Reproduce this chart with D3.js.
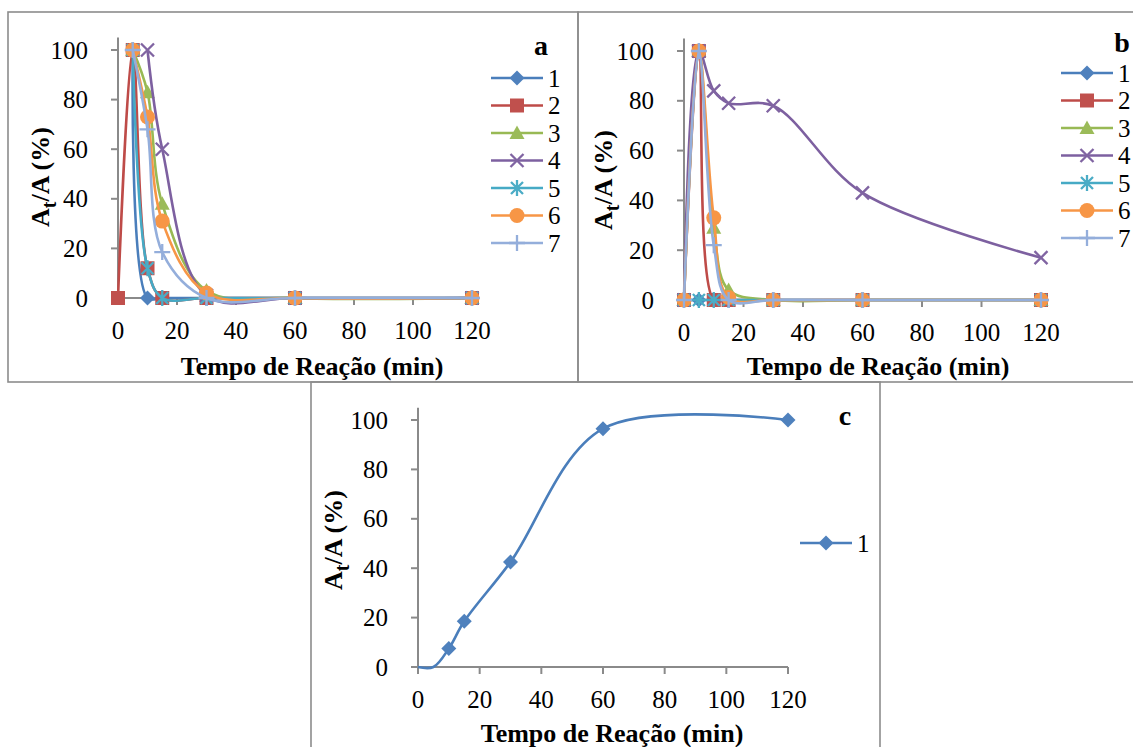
<!DOCTYPE html>
<html><head><meta charset="utf-8">
<script src="https://cdn.jsdelivr.net/npm/d3@7"></script>
<style>body{margin:0;background:#fff}svg{display:block}</style>
</head><body>
<svg id="chart" width="1133" height="747"></svg>
<script>
// Sampling times (min) and axis ticks
const times = [0, 5, 10, 15, 30, 60, 120];
const xTicks = [0, 20, 40, 60, 80, 100, 120];
const yTicks = [0, 20, 40, 60, 80, 100];
const seriesNames = ["1", "2", "3", "4", "5", "6", "7"];

// Panel a: A_t/A (%) per series (null = not measured)
const a1 = [null, 100, 0, 0, 0, 0, 0];
const a2 = [0, 100, 12, 0, 0, 0, 0];
const a3 = [null, 100, 83, 38, 3, 0, 0];
const a4 = [null, null, 100, 60, 1, 0, 0];
const a5 = [null, 100, 12, 0, 0, 0, 0];
const a6 = [null, 100, 73, 31, 2, 0, 0];
const a7 = [null, 100, 68, 18.5, 0, 0, 0];

// Panel b
const b1 = [0, 0, 0, 0, 0, 0, 0];
const b2 = [0, 100, 0, 0, 0, 0, 0];
const b3 = [0, 100, 29, 4, 0, 0, 0];
const b4 = [0, 100, 84, 79, 78, 43, 17];
const b5 = [0, 0, 0, 0, 0, 0, 0];
const b6 = [0, 100, 33, 1, 0, 0, 0];
const b7 = [0, 100, 22, 0, 0, 0, 0];

// Panel c (markers only on measured, non-baseline points)
const c1 = [0, 0, 7.5, 18.5, 42.5, 96.5, 100];
const c1Marked = [false, false, true, true, true, true, true];

// Series styling
const lineColors = ["#4A7EBB", "#BE4B48", "#98B954", "#7D60A0", "#46AAC5", "#F79646", "#94AEDB"];
const markerColors = ["#4F81BD", "#C0504D", "#9BBB59", "#8064A2", "#4BACC6", "#F79646", "#94AEDB"];
const markerShapes = ["diamond", "square", "triangle", "x", "star", "circle", "plus"];

const svg = d3.select("#chart");
const SERIF = "Liberation Serif, Times New Roman, serif";
const AXIS = "#8A8A8A";

// Panel frames
const frames = [
  {x: 8, y: 12, w: 570, h: 370},
  {x: 578, y: 12, w: 570, h: 370},
  {x: 311, y: 382, w: 569, h: 380}
];
frames.forEach(f => svg.append("rect").attr("x", f.x).attr("y", f.y).attr("width", f.w).attr("height", f.h)
  .attr("fill", "none").attr("stroke", "#8C8C8C").attr("stroke-width", 1.6));

function markerPath(shape) {
  switch (shape) {
    case "diamond": return "M0,-7.5L7.5,0L0,7.5L-7.5,0Z";
    case "square": return "M-7,-7H7V7H-7Z";
    case "triangle": return "M0,-7.5L7.5,6L-7.5,6Z";
    case "x": return "M-6.5,-6.5L6.5,6.5M-6.5,6.5L6.5,-6.5";
    case "star": return "M-6,-6L6,6M-6,6L6,-6M0,-8V8";
    case "plus": return "M-8,0H8M0,-8V8";
  }
  return null;
}

function drawMarker(g, shape, color, cx, cy) {
  if (shape === "circle") {
    g.append("circle").attr("cx", cx).attr("cy", cy).attr("r", 7.5).attr("fill", color);
    return;
  }
  const p = g.append("path").attr("d", markerPath(shape)).attr("transform", `translate(${cx},${cy})`);
  if (shape === "x" || shape === "star" || shape === "plus") {
    p.attr("fill", "none").attr("stroke", color).attr("stroke-width", 2.3);
  } else {
    p.attr("fill", color);
  }
}

function drawPanel(cfg) {
  const x = d3.scaleLinear().domain([0, 120]).range([cfg.xL, cfg.xR]);
  const y = d3.scaleLinear().domain([0, 100]).range([cfg.yB, cfg.yT]);
  const g = svg.append("g");

  // axis lines
  g.append("line").attr("x1", x(0)).attr("x2", x(0)).attr("y1", y(0)).attr("y2", y(105))
    .attr("stroke", AXIS).attr("stroke-width", 2);
  g.append("line").attr("x1", x(0)).attr("x2", x(120)).attr("y1", y(0)).attr("y2", y(0))
    .attr("stroke", AXIS).attr("stroke-width", 2);
  yTicks.forEach(t => {
    g.append("line").attr("x1", x(0) - 7).attr("x2", x(0)).attr("y1", y(t)).attr("y2", y(t))
      .attr("stroke", AXIS).attr("stroke-width", 2);
    g.append("text").attr("x", x(0) - 30).attr("y", y(t)).attr("dy", "0.34em")
      .attr("text-anchor", "end").attr("font-family", SERIF).attr("font-size", 25).text(t);
  });
  xTicks.forEach(t => {
    g.append("line").attr("x1", x(t)).attr("x2", x(t)).attr("y1", y(0)).attr("y2", y(0) + 7)
      .attr("stroke", AXIS).attr("stroke-width", 2);
    g.append("text").attr("x", x(t)).attr("y", y(0) + 32).attr("dy", "0.34em")
      .attr("text-anchor", "middle").attr("font-family", SERIF).attr("font-size", 25).text(t);
  });

  // titles
  g.append("text").attr("x", cfg.xTitleX).attr("y", cfg.xTitleY).attr("dy", "0.34em")
    .attr("text-anchor", "middle").attr("font-family", SERIF).attr("font-weight", "bold")
    .attr("font-size", 26).text("Tempo de Reação (min)");
  const yt = g.append("text").attr("transform", `translate(${cfg.yTitleX},${cfg.yTitleY}) rotate(-90)`)
    .attr("text-anchor", "middle").attr("font-family", SERIF).attr("font-weight", "bold").attr("font-size", 26);
  yt.append("tspan").text("A");
  yt.append("tspan").attr("dy", 7).attr("font-size", 20).text("t");
  yt.append("tspan").attr("dy", -7).text("/A (%)");
  g.append("text").attr("x", cfg.letterX).attr("y", cfg.letterY).attr("dy", "0.34em")
    .attr("text-anchor", "middle").attr("font-family", SERIF).attr("font-weight", "bold")
    .attr("font-size", 28).text(cfg.letter);

  // series: smoothed lines with markers
  const line = d3.line().defined(d => d[1] != null)
    .x(d => x(d[0])).y(d => y(d[1])).curve(d3.curveCatmullRom.alpha(0.5));
  cfg.series.forEach((vals, i) => {
    const idx = cfg.index[i];
    const pts = times.map((t, k) => [t, vals[k]]);
    const sg = g.append("g");
    sg.append("path").attr("d", line(pts)).attr("fill", "none")
      .attr("stroke", lineColors[idx]).attr("stroke-width", 2.6);
    pts.forEach((p, k) => {
      if (p[1] == null) return;
      if (cfg.marked && !cfg.marked[i][k]) return;
      drawMarker(sg, markerShapes[idx], markerColors[idx], x(p[0]), y(p[1]));
    });
  });

  // legend
  cfg.index.forEach((idx, i) => {
    const ly = cfg.legY + i * cfg.legStep;
    g.append("line").attr("x1", cfg.legX).attr("x2", cfg.legX + 52).attr("y1", ly).attr("y2", ly)
      .attr("stroke", lineColors[idx]).attr("stroke-width", 2.6);
    drawMarker(g, markerShapes[idx], markerColors[idx], cfg.legX + 26, ly);
    g.append("text").attr("x", cfg.legX + 57).attr("y", ly).attr("dy", "0.34em")
      .attr("font-family", SERIF).attr("font-size", 25).text(seriesNames[idx]);
  });
}

drawPanel({
  xL: 118, xR: 472, yB: 298, yT: 50,
  xTitleX: 312, xTitleY: 366, yTitleX: 49, yTitleY: 177,
  letter: "a", letterX: 541, letterY: 45,
  legX: 491, legY: 78, legStep: 27.5,
  series: [a1, a2, a3, a4, a5, a6, a7], index: [0, 1, 2, 3, 4, 5, 6]
});
drawPanel({
  xL: 684, xR: 1041, yB: 300, yT: 51,
  xTitleX: 878, xTitleY: 366, yTitleX: 612, yTitleY: 180,
  letter: "b", letterX: 1122, letterY: 42,
  legX: 1061, legY: 73, legStep: 27.5,
  series: [b1, b2, b3, b4, b5, b6, b7], index: [0, 1, 2, 3, 4, 5, 6]
});
drawPanel({
  xL: 418, xR: 788, yB: 667, yT: 420,
  xTitleX: 612, xTitleY: 733, yTitleX: 342, yTitleY: 540,
  letter: "c", letterX: 845, letterY: 415,
  legX: 800, legY: 543, legStep: 27.5,
  series: [c1], index: [0], marked: [c1Marked]
});
</script>
</body></html>
